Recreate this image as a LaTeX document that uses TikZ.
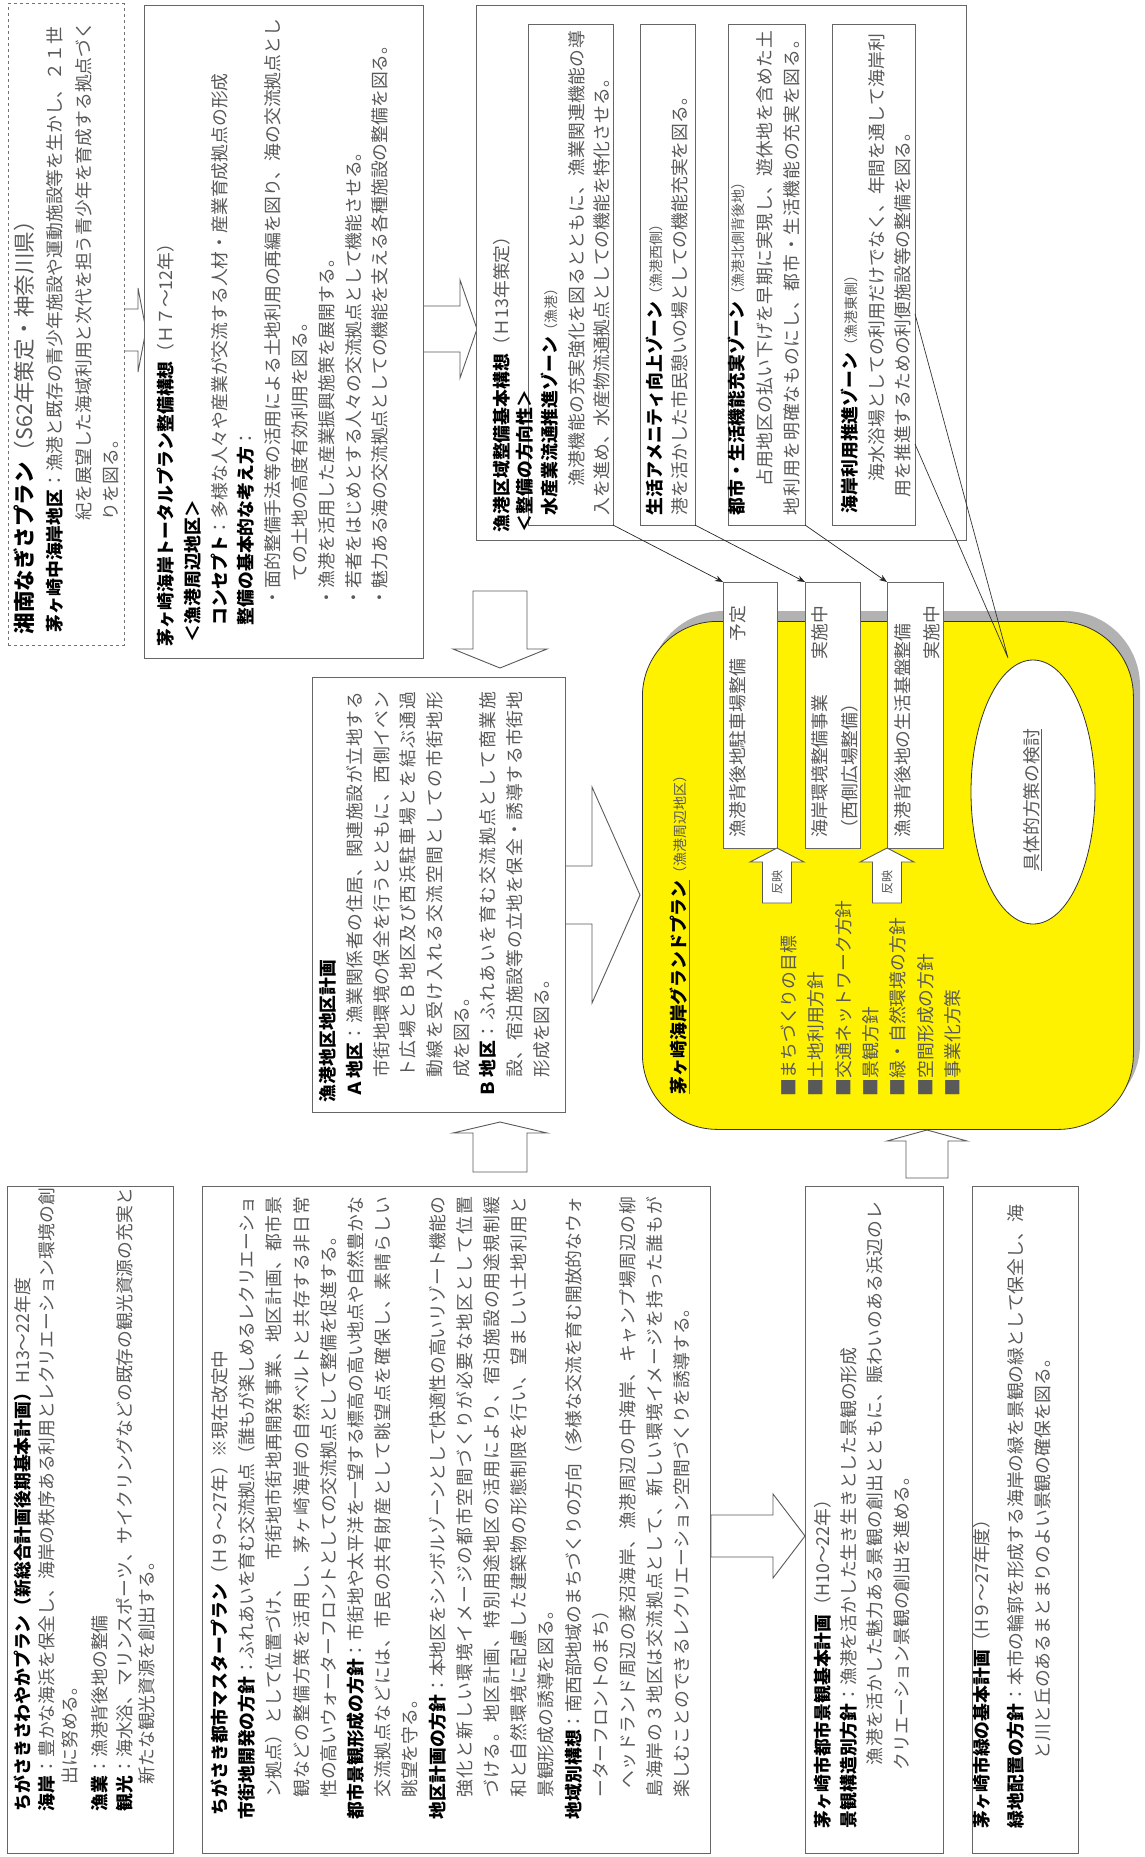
\documentclass[tikz,border=0pt]{standalone}
\usepackage{fontspec}
\setmainfont{Noto Sans CJK JP}
\usetikzlibrary{arrows.meta,shapes.geometric}
\XeTeXinterchartokenstate=1
\count255="3000
\loop
  \XeTeXcharclass\count255=7
  \advance\count255 by 1
\ifnum\count255<"A000 \repeat
\count255="FF00
\loop
  \XeTeXcharclass\count255=7
  \advance\count255 by 1
\ifnum\count255<"FFF0 \repeat
\XeTeXinterchartoks 7 7 = {\hskip 0pt plus 2pt minus 0.4pt\relax}
\newcommand\hb[1]{{\bfseries\color{black}#1}}
\newcommand\sm[1]{{\fontsize{14}{14}\selectfont #1}}
\newcommand\jl[2]{\makebox[#1pt][s]{#2}}
\newcommand\tline[4]{\node[tl] (#1) at (#2,#3) {#4};}
\newcommand\boxn[6][]{\node[box,minimum width=#5pt,minimum height=#6pt,#1] (#2) at (#3,#4) {};}
\newcommand\barrow[7]{\begin{scope}[shift={(#1,#2)},rotate=#3]
  \filldraw[barrowst] (0,#5) -- ({#4-#7},#5) -- ({#4-#7},#6) -- (#4,0) -- ({#4-#7},-#6) -- ({#4-#7},-#5) -- (0,-#5) -- cycle;
  \end{scope}}
\begin{document}
\begin{tikzpicture}[x=1pt,y=-1pt,
  tl/.style={rotate=90,anchor=west,inner sep=0pt,outer sep=0pt,text=black!65,font=\fontsize{17.8}{20}\selectfont},
  box/.style={draw=black!60,line width=1pt,fill=white,inner sep=0pt,outer sep=0pt,anchor=north west},
  barrowst/.style={draw=black!65,fill=white,line width=0.9pt},
  conn/.style={draw=black!85,line width=0.7pt,-{Stealth[length=8pt,width=6pt]}},
  thin/.style={draw=black!80,line width=0.7pt}]
\useasboundingbox (0,0) rectangle (1145,1857);
\fill[white] (0,0) rectangle (1145,1857);

% ---------- block arrows drawn under boxes
\barrow{122}{330}{0}{24}{21}{42}{8}
\barrow{423}{329}{0}{54}{23}{49}{17}
\barrow{500}{591}{-90}{77}{27}{47}{19}
\barrow{565}{895}{0}{75}{29}{108}{48}
\barrow{500}{1172}{90}{50}{27}{47}{11}
\barrow{711}{1536}{0}{94}{21}{42}{32}
\barrow{927}{1178}{90}{48}{21}{40}{11}

% ---------- boxes
\boxn[dashed,draw=black!55]{A}{8}{4}{116}{641}
\boxn{B}{144}{6}{279}{652}
\boxn{C}{476}{6}{490}{534}
\boxn{C1}{528}{25}{85}{500}
\boxn{C2}{640}{25}{55}{500}
\boxn{C3}{728}{25}{77}{500}
\boxn{C4}{832}{25}{83}{500}
\boxn{D}{312}{677}{253}{435}
\boxn{E}{7}{1186}{166}{667}
\boxn{F}{202}{1186}{508}{667}
\boxn{G}{805}{1186}{138}{667}
\boxn{H}{972}{1186}{106}{667}

% ---------- grand plan
\fill[black!30,rounded corners=75pt] (649,611) rectangle (1140,1119);
\node[draw=black!80,line width=0.8pt,fill=yellow,rounded corners=75pt,anchor=north west,
  minimum width=491pt,minimum height=508pt,inner sep=0pt] (GP) at (642,621) {};
\boxn{W1}{723}{582}{54}{266}
\boxn{W2}{805}{582}{55}{266}
\boxn{W3}{887}{582}{56}{266}
\barrow{777}{903}{90}{55}{14.5}{27}{14}
\barrow{887}{903}{90}{55}{14.5}{27}{14}
\node[ellipse,draw=black!80,line width=0.8pt,fill=white,minimum width=124pt,minimum height=264pt,inner sep=0pt] (EL) at (1033,792) {};

% ---------- connectors
\draw[conn] (C1.south east) -- (W1.north west);
\draw[conn] (C2.south east) -- (W2.north west);
\draw[conn] (C3.south east) -- (W3.north west);
\coordinate (cA) at (915,314);
\coordinate (cB) at (915,444);
\coordinate (cT) at (1008,658);
\draw[thin] (cA) -- (cT) -- (cB);

% ---------- texts A
\tline{a1}{24}{634}{{\fontsize{21.5}{22}\selectfont\hb{湘南なぎさプラン}（S62年策定・神奈川県）}}
\tline{a2}{55}{632}{\hb{茅ヶ崎中海岸地区}：漁港と既存の青少年施設や運動施設等を生かし、２１世}
\tline{a3}{84}{520}{紀を展望した海域利用と次代を担う青少年を育成する拠点づく}
\tline{a4}{111}{520}{りを図る。}

% ---------- texts B
\tline{b1}{166}{646}{\hb{茅ヶ崎海岸トータルプラン整備構想}（Ｈ７～12年）}
\tline{b2}{193}{642}{\hb{＜漁港周辺地区＞}}
\tline{b3}{220}{625}{\hb{コンセプト}：多様な人々や産業が交流する人材・産業育成拠点の形成}
\tline{b4}{246}{625}{\hb{整備の基本的な考え方}：}
\tline{b5}{273}{606}{\jl{587}{・面的整備手法等の活用による土地利用の再編を図り、海の交流拠点とし}}
\tline{b6}{300}{581}{ての土地の高度有効利用を図る。}
\tline{b7}{327}{606}{・漁港を活用した産業振興施策を展開する。}
\tline{b8}{354}{606}{・若者をはじめとする人々の交流拠点として機能させる。}
\tline{b9}{380}{606}{・魅力ある海の交流拠点としての機能を支える各種施設の整備を図る。}

% ---------- texts C
\tline{c01}{502}{532}{\hb{漁港区域整備基本構想}（Ｈ13年策定）}
\tline{c02}{525}{532}{\hb{＜整備の方向性＞}}
\tline{c11}{550}{515}{\hb{水産業流通推進ゾーン}\sm{（漁港）}}
\tline{c12}{577}{515}{\jl{484}{\hspace*{1.6em}漁港機能の充実強化を図るとともに、漁業関連機能の導}}
\tline{c13}{602}{515}{入を進め、水産物流通拠点としての機能を特化させる。}
\tline{c21}{655}{515}{\hb{生活アメニティ向上ゾーン}\sm{（漁港西側）}}
\tline{c22}{680}{515}{港を活かした市民憩いの場としての機能充実を図る。}
\tline{c31}{737}{515}{\hb{都市・生活機能充実ゾーン}\sm{（漁港北側背後地）}}
\tline{c32}{765}{515}{\jl{484}{\hspace*{1.6em}占用地区の払い下げを早期に実現し、遊休地を含めた土}}
\tline{c33}{792}{515}{\jl{484}{地利用を明確なものにし、都市・生活機能の充実を図る。}}
\tline{c41}{850}{513}{\hb{海岸利用推進ゾーン}\sm{（漁港東側）}}
\tline{c42}{877}{515}{\jl{481}{\hspace*{1.9em}海水浴場としての利用だけでなく、年間を通して海岸利}}
\tline{c43}{903}{515}{\hspace*{1em}用を推進するための利便施設等の整備を図る。}

% ---------- texts D
\tline{d1}{328}{1102}{\hb{漁港地区地区計画}}
\tline{d2}{355}{1097}{\jl{405}{\hb{Ａ地区}：漁業関係者の住居、関連施設が立地する}}
\tline{d3}{382}{1097}{\jl{405}{\hspace*{1.1em}市街地環境の保全を行うとともに、西側イベン}}
\tline{d4}{408}{1097}{\jl{405}{\hspace*{1.1em}ト広場とＢ地区及び西浜駐車場とを結ぶ通過}}
\tline{d5}{435}{1097}{\jl{405}{\hspace*{1.1em}動線を受け入れる交流空間としての市街地形}}
\tline{d6}{462}{1097}{\hspace*{1.1em}成を図る。}
\tline{d7}{488}{1097}{\jl{405}{\hb{Ｂ地区}：ふれあいを育む交流拠点として商業施}}
\tline{d8}{515}{1097}{\jl{405}{\hspace*{1.1em}設、宿泊施設等の立地を保全・誘導する市街地}}
\tline{d9}{542}{1097}{\hspace*{1.1em}形成を図る。}

% ---------- texts grand plan
\tline{y0}{680}{1094}{\underline{\hb{茅ヶ崎海岸グランドプラン}}\sm{（漁港周辺地区）}}
\begin{scope}[every node/.append style={text=black}]
\tline{y1}{789}{1096}{■まちづくりの目標}
\tline{y2}{816}{1096}{■土地利用方針}
\tline{y3}{844}{1096}{■交通ネットワーク方針}
\tline{y4}{871}{1096}{■景観方針}
\tline{y5}{898}{1096}{■緑・自然環境の方針}
\tline{y6}{926}{1096}{■空間形成の方針}
\tline{y7}{953}{1096}{■事業化方策}
\tline{w11}{738}{837}{漁港背後地駐車場整備　予定}
\tline{w21}{820}{837}{海岸環境整備事業　　実施中}
\tline{w22}{850}{837}{（西側広場整備）}
\tline{w31}{903}{837}{漁港背後地の生活基盤整備}
\tline{w32}{932}{659}{実施中}
\node[tl,anchor=center,font=\fontsize{12}{12}\selectfont] (r1) at (777,882) {反映};
\node[tl,anchor=center,font=\fontsize{12}{12}\selectfont] (r2) at (887,882) {反映};
\node[tl,anchor=center] (el) at (1033,800) {\underline{具体的方策の検討}};
\end{scope}

% ---------- texts E
\begin{scope}[every node/.append style={font=\fontsize{17.6}{20}\selectfont}]
\tline{e1}{23}{1811}{\hb{ちがさきさわやかプラン（新総合計画後期基本計画）}H13～22年度}
\tline{e2}{47}{1811}{\hb{海岸}：豊かな海浜を保全し、海岸の秩序ある利用とレクリエーション環境の創}
\tline{e3}{70}{1811}{\hspace*{1.5em}出に努める。}
\tline{e4}{100}{1811}{\hb{漁業}：漁港背後地の整備}
\tline{e5}{125}{1811}{\hb{観光}：海水浴、マリンスポーツ、サイクリングなどの既存の観光資源の充実と}
\tline{e6}{147}{1811}{\hspace*{1.5em}新たな観光資源を創出する。}
\end{scope}

% ---------- texts F
\tline{f1}{220}{1815}{\hb{ちがさき都市マスタープラン}（Ｈ９～27年）※現在改定中}
\tline{f2}{247}{1819}{\jl{622}{\hb{市街地開発の方針}：ふれあいを育む交流拠点（誰もが楽しめるレクリエーショ}}
\tline{f3}{274}{1819}{\jl{622}{\hspace*{1.2em}ン拠点）として位置づけ、　市街地市街地再開発事業、地区計画、都市景}}
\tline{f4}{302}{1819}{\jl{622}{\hspace*{1.2em}観などの整備方策を活用し、茅ヶ崎海岸の自然ベルトと共存する非日常}}
\tline{f5}{329}{1819}{\hspace*{1.2em}性の高いウォーターフロントとしての交流拠点として整備を促進する。}
\tline{f6}{356}{1819}{\jl{622}{\hb{都市景観形成の方針}：市街地や太平洋を一望する標高の高い地点や自然豊かな}}
\tline{f7}{383}{1819}{\jl{622}{\hspace*{1.2em}交流拠点などには、市民の共有財産として眺望点を確保し、素晴らしい}}
\tline{f8}{410}{1819}{\hspace*{1.2em}眺望を守る。}
\tline{f9}{438}{1819}{\jl{622}{\hb{地区計画の方針}：本地区をシンボルゾーンとして快適性の高いリゾート機能の}}
\tline{f10}{465}{1819}{\jl{622}{\hspace*{1.2em}強化と新しい環境イメージの都市空間づくりが必要な地区として位置}}
\tline{f11}{492}{1819}{\jl{622}{\hspace*{1.2em}づける。地区計画、特別用途地区の活用により、宿泊施設の用途規制緩}}
\tline{f12}{519}{1819}{\jl{622}{\hspace*{1.2em}和と自然環境に配慮した建築物の形態制限を行い、望ましい土地利用と}}
\tline{f13}{546}{1819}{\hspace*{1.2em}景観形成の誘導を図る。}
\tline{f14}{574}{1819}{\jl{622}{\hb{地域別構想}：南西部地域のまちづくりの方向（多様な交流を育む開放的なウォ}}
\tline{f15}{601}{1819}{\hspace*{1.2em}ーターフロントのまち）}
\tline{f16}{628}{1819}{\jl{622}{\hspace*{1.7em}ヘッドランド周辺の菱沼海岸、漁港周辺の中海岸、キャンプ場周辺の柳}}
\tline{f17}{655}{1819}{\jl{622}{\hspace*{1.2em}島海岸の３地区は交流拠点として、新しい環境イメージを持った誰もが}}
\tline{f18}{682}{1819}{\hspace*{1.2em}楽しむことのできるレクリエーション空間づくりを誘導する。}

% ---------- texts G
\tline{g1}{823}{1828}{\hb{茅ヶ崎市都市景観基本計画}（H10～22年）}
\tline{g2}{849}{1828}{\hb{景観構造別方針}：漁港を活かした生き生きとした景観の形成}
\tline{g3}{875}{1765}{\jl{563}{漁港を活かした魅力ある景観の創出とともに、賑わいのある浜辺のレ}}
\tline{g4}{902}{1770}{クリエーション景観の創出を進める。}

% ---------- texts H
\tline{h1}{982}{1828}{\hb{茅ヶ崎市緑の基本計画}（H９～27年度）}
\tline{h2}{1016}{1828}{\hb{緑地配置の方針}：本市の輪郭を形成する海岸の緑を景観の緑として保全し、海}
\tline{h3}{1043}{1759}{と川と丘のあるまとまりのよい景観の確保を図る。}
\end{tikzpicture}
\end{document}
